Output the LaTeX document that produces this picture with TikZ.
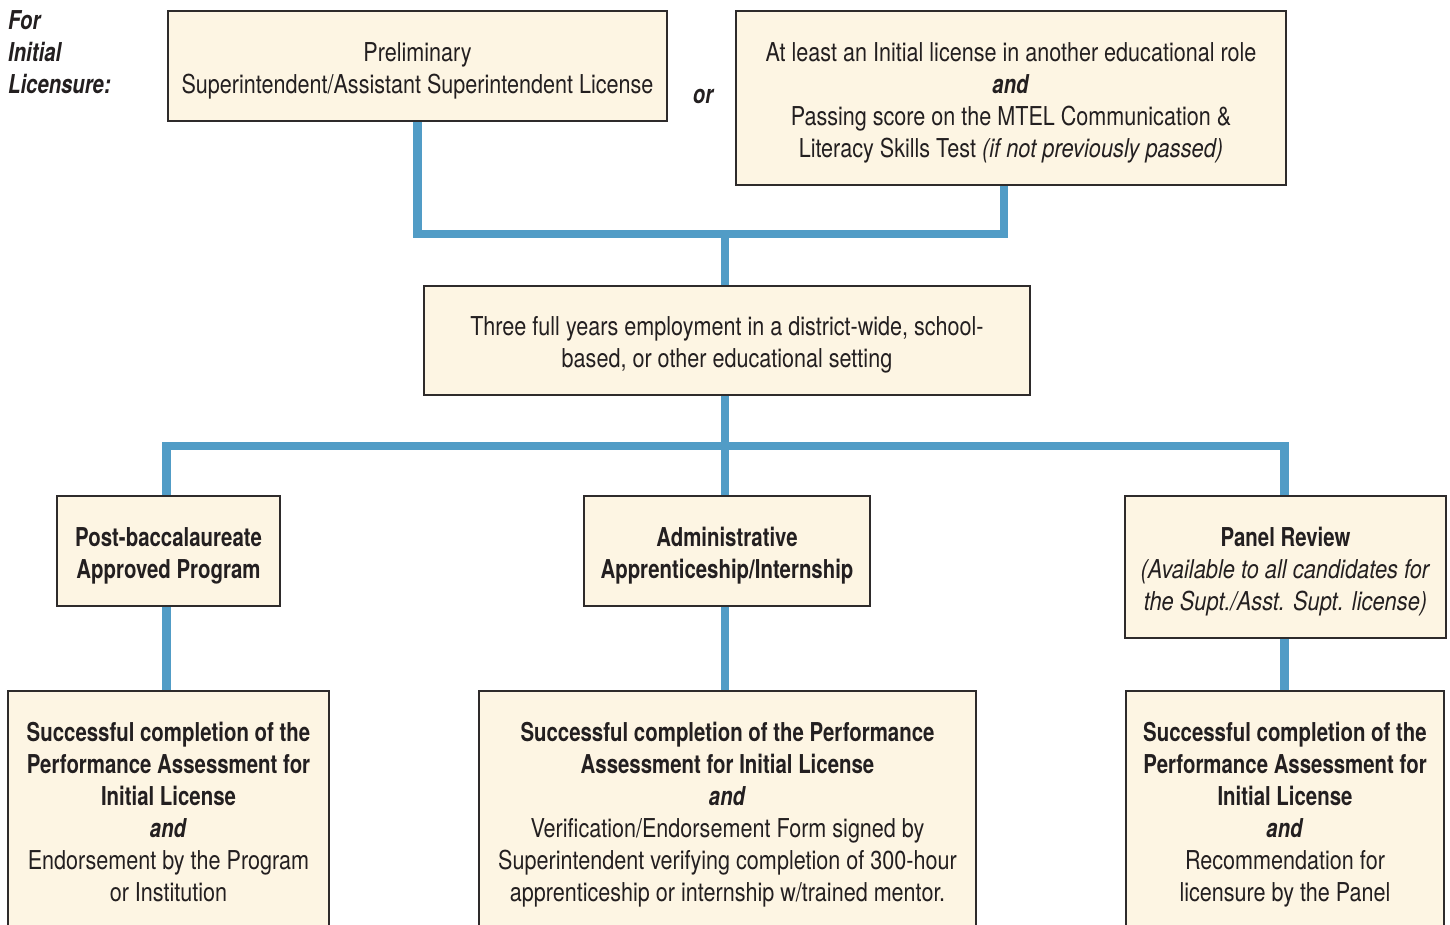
\documentclass[tikz,border=0pt]{standalone}
\usepackage{fontspec}
\setmainfont[
  UprightFeatures={FakeStretch=0.83},
  BoldFeatures={FakeStretch=0.785},
  ItalicFeatures={FakeStretch=0.84},
  BoldItalicFeatures={FakeStretch=0.78}
]{TeX Gyre Heros}
\usetikzlibrary{backgrounds}
\definecolor{boxfill}{HTML}{FDF5E3}
\definecolor{boxline}{HTML}{2E2B2B}
\definecolor{linkblue}{HTML}{519CC6}
\definecolor{ink}{HTML}{231F20}
\tikzset{
  box/.style={draw=boxline, line width=1.4pt, fill=boxfill, inner sep=0pt},
  boxtext/.style={align=center, text=ink, inner sep=0pt,
    font=\fontsize{26}{32}\selectfont},
  link/.style={draw=linkblue, line width=8.5pt},
  note/.style={text=ink, font=\fontsize{26}{32}\selectfont\bfseries\itshape, inner sep=0pt}
}
\begin{document}
\begin{tikzpicture}[x=1pt,y=-1pt]
\useasboundingbox (0,0) rectangle (1450,924);
\clip (0,0) rectangle (1450,924);

% frames
\node[box, minimum width=499pt, minimum height=110pt] (b1) at (417.5,66) {};
\node[box, minimum width=550pt, minimum height=174pt] (b2) at (1011,98) {};
\node[box, minimum width=606pt, minimum height=109pt] (b3) at (727,340.5) {};
\node[box, minimum width=223pt, minimum height=110pt] (b4) at (168.5,551) {};
\node[box, minimum width=286pt, minimum height=110pt] (b5) at (727,551) {};
\node[box, minimum width=321pt, minimum height=142pt] (b6) at (1285.5,567) {};
\node[box, minimum width=321pt, minimum height=244pt] (b7) at (168.5,813) {};
\node[box, minimum width=497pt, minimum height=244pt] (b8) at (727.5,813) {};
\node[box, minimum width=318pt, minimum height=244pt] (b9) at (1285,813) {};

% box texts
\node[boxtext] (t1) at ([yshift=-5pt]b1.center)
  {Preliminary\\Superintendent/Assistant Superintendent License};
\node[boxtext] (t2) at ([yshift=-5pt]b2.center)
  {At least an Initial license in another educational role\\
   \textbf{\textit{and}}\\
   Passing score on the MTEL Communication \&\\
   Literacy Skills Test \textit{(if not previously passed)}};
\node[boxtext] (t3) at ([yshift=-4pt]b3.center)
  {Three full years employment in a district-wide, school-\\
   based, or other educational setting};
\node[boxtext] (t4) at ([yshift=-5pt]b4.center)
  {\textbf{Post-baccalaureate}\\\textbf{Approved Program}};
\node[boxtext] (t5) at ([yshift=-5pt]b5.center)
  {\textbf{Administrative}\\\textbf{Apprenticeship/Internship}};
\node[boxtext] (t6) at ([yshift=-5pt]b6.center)
  {\textbf{Panel Review}\\
   \textit{(Available to all candidates for}\\
   \textit{the Supt./Asst. Supt. license)}};
\node[boxtext] (t7) at ([yshift=1pt]b7.center)
  {\textbf{Successful completion of the}\\
   \textbf{Performance Assessment for}\\
   \textbf{Initial License}\\
   \textbf{\textit{and}}\\
   Endorsement by the Program\\
   or Institution};
\node[boxtext] (t8) at ([yshift=-2pt]b8.center)
  {\textbf{Successful completion of the Performance}\\
   \textbf{Assessment for Initial License}\\
   \textbf{\textit{and}}\\
   Verification/Endorsement Form signed by\\
   Superintendent verifying completion of 300-hour\\
   apprenticeship or internship w/trained mentor.};
\node[boxtext] (t9) at ([yshift=-2pt]b9.center)
  {\textbf{Successful completion of the}\\
   \textbf{Performance Assessment for}\\
   \textbf{Initial License}\\
   \textbf{\textit{and}}\\
   Recommendation for\\
   licensure by the Panel};

% side labels
\node[note, anchor=west, align=left] (lbl) at (8,52)
  {For\\Initial\\Licensure:};
\node[note] (or) at (703,96) {or};

% junction points
\coordinate (j1) at (725,234);
\coordinate (j2) at (725,446);

% connectors, kept under the frames
\begin{pgfonlayer}{background}
  \fill[white] (0,0) rectangle (1450,924);
  \draw[link] (b1.south) |- (j1) -| ([xshift=-7pt]b2.south);
  \draw[link] (j1) -- (j1 |- b3.north);
  \draw[link] (j1 |- b3.south) -- (j2);
  \draw[link] ([xshift=-2pt]b4.north) |- (j2) -| ([xshift=-1pt]b6.north);
  \draw[link] (j2) -- (j2 |- b5.north);
  \draw[link] ([xshift=-2pt]b4.south) -- ([xshift=-2pt]b7.north);
  \draw[link] (j2 |- b5.south) -- (j2 |- b8.north);
  \draw[link] ([xshift=-1pt]b6.south) -- ([xshift=-1pt]b6.south |- b9.north);
\end{pgfonlayer}
\end{tikzpicture}
\end{document}
